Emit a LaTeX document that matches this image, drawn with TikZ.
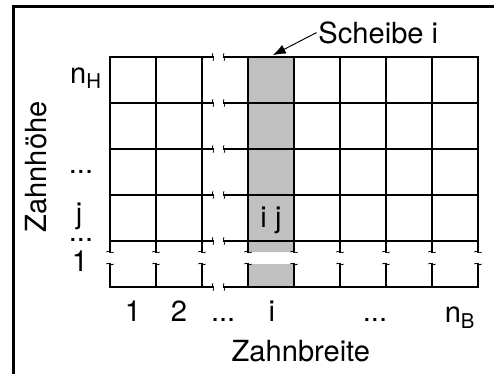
\documentclass[tikz,border=0pt]{standalone}
\usepackage{fontspec}
\setmainfont{TeX Gyre Heros}
\usetikzlibrary{arrows.meta}
\definecolor{slicegray}{HTML}{C0C0C0}
\tikzset{
  gridline/.style={line width=1.2pt,line cap=rect},
  sliceline/.style={line width=1.7pt,line cap=rect},
  frameline/.style={line width=1.9pt},
  cutmark/.style={line width=0.45pt},
  lbl/.style={inner sep=1pt,anchor=base},
  dotlbl/.style={lbl,text height=0.15em,text depth=0pt},
  pointer/.style={line width=0.6pt,-{Latex[length=2.8mm,width=2.1mm]}},
  hcut/.pic={\draw[cutmark] (0,-0.08) .. controls (0.06,-0.03) and (-0.06,0.03) .. (0,0.08);},
  vcut/.pic={\draw[cutmark] (-0.08,0) .. controls (-0.03,0.06) and (0.03,-0.06) .. (0.08,0);}
}
\begin{document}
\begin{tikzpicture}[font=\fontsize{18}{21}\selectfont]
\useasboundingbox (-2.391,-1.891) rectangle (8.348,6.239);
\draw[frameline] (-2.098,-1.891) -- (-2.098,6.098) -- (8.348,6.098);
% slice i
\fill[slicegray] (3,0.76) rectangle (4,5) (3,0) rectangle (4,0.5);
% grid with cuts in width and height
\foreach \y in {0,...,5}
  \draw[gridline] (0,\y) -- (2.24,\y) (2.48,\y) -- (8,\y);
\foreach \x in {0,1,2,5,6,7,8}
  \draw[gridline] (\x,5) -- (\x,0.76) (\x,0.5) -- (\x,0);
\foreach \x in {3,4}
  \draw[sliceline] (\x,5) -- (\x,0.76) (\x,0.5) -- (\x,0);
\foreach \y in {0,...,5}
  \path (2.24,\y) pic{hcut} (2.48,\y) pic{hcut};
\foreach \x in {0,...,8}
  \path (\x,0.76) pic{vcut} (\x,0.5) pic{vcut};
% height index
\node[lbl] (nH) at (-0.52,4.43) {n\textsubscript{H}};
\node[dotlbl] (hdots) at (-0.63,2.46) {...};
\node[lbl] (hj) at (-0.67,1.37) {j};
\node[dotlbl] (hdotsb) at (-0.63,0.98) {...};
\node[lbl] (h1) at (-0.65,0.33) {1};
\node[lbl,rotate=90] (ylabel) at (-1.37,2.61) {Zahnhöhe};
% width index
\node[lbl] (b1) at (0.5,-0.76) {1};
\node[lbl] (b2) at (1.5,-0.76) {2};
\node[dotlbl] (bdots) at (2.46,-0.76) {...};
\node[lbl] (bi) at (3.52,-0.76) {i};
\node[dotlbl] (bdotsb) at (5.76,-0.76) {...};
\node[lbl] (nB) at (7.61,-0.78) {n\textsubscript{B}};
\node[lbl] (xlabel) at (4.15,-1.63) {Zahnbreite};
\node[lbl] (cellij) at (3.5,1.30) {i j};
\node[lbl,anchor=base west] (slicelbl) at (4.49,5.30) {Scheibe i};
\coordinate (tip) at (3.54,5.04);
\draw[pointer] (slicelbl.west) -- (tip);
\end{tikzpicture}
\end{document}
